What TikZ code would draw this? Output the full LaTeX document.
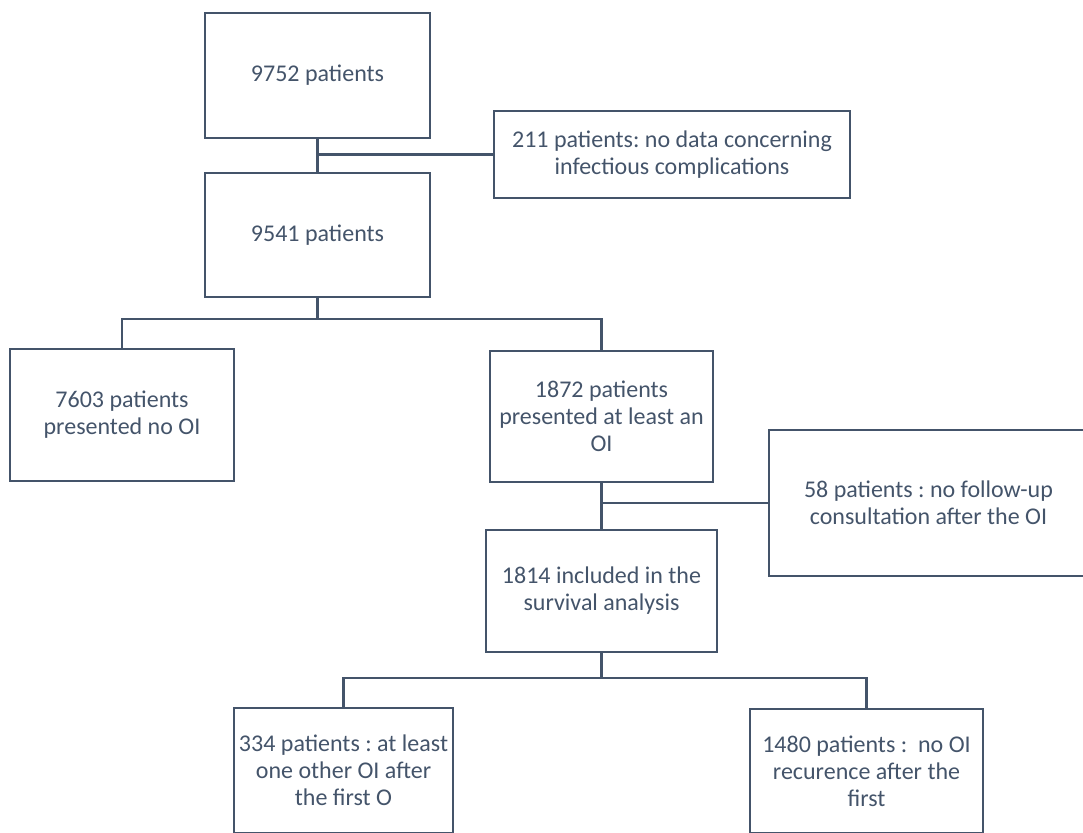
\documentclass[tikz,border=0pt]{standalone}
\usepackage{fontspec}
\setmainfont{Carlito}
\usepackage{xcolor}
\usepackage{tikz}
\usetikzlibrary{positioning,calc}

\definecolor{slate}{HTML}{44546A}
\frenchspacing

\begin{document}
\begin{tikzpicture}[
  x=1pt, y=-1pt,
  font=\fontsize{24}{27}\selectfont,
  box/.style={draw=slate, line width=2.7pt, text=slate, align=center, inner sep=0pt},
  link/.style={draw=slate, line width=2.7pt},
]

\useasboundingbox (0,0) rectangle (1083,832);
\clip (0,0) rectangle (1083,832);

% Boxes (top to bottom)
\node[box, minimum width=225pt, minimum height=125pt] (n9752) at (317.5,75.5) {9752 patients};
\node[box, minimum width=356pt, minimum height=87pt] (n211) at (672,154.5) {211 patients: no data concerning\\infectious complications};
\node[box, minimum width=225pt, minimum height=124pt] (n9541) at (317.5,235) {9541 patients};
\node[box, minimum width=224pt, minimum height=132pt] (n7603) at (122,415) {7603 patients\\presented no OI};
\node[box, minimum width=223pt, minimum height=131pt] (n1872) at (601.5,416.5) {1872 patients\\presented at least an\\OI};
\node[box, minimum width=319pt, minimum height=146pt] (n58) at (928.5,503) {58 patients : no follow-up\\consultation after the OI};
\node[box, minimum width=231pt, minimum height=122pt] (n1814) at (601.5,591) {1814 included in the\\survival analysis};
\node[box, minimum width=219pt, minimum height=125pt] (n334) at (343.5,770.5) {334 patients : at least\\one other OI after\\the first O};
\node[box, minimum width=233pt, minimum height=124pt] (n1480) at (866.5,771) {1480 patients :\ \ no OI\\recurence after the\\first};

% Split points
\coordinate (s1) at (317.5,319);
\coordinate (s2) at (601.5,678);

% Connectors
\draw[link] (n9752) -- (n9541);
\draw[link] (n211.west) -- (n211.west -| n9752.south);
\draw[link] (n9541) -- (s1) -| (n7603);
\draw[link] (s1) -| (n1872);
\draw[link] (n1872) -- (n1814);
\draw[link] (n58.west) -- (n58.west -| n1872.south);
\draw[link] (n1814) -- (s2) -| (n334);
\draw[link] (s2) -| (n1480);

\end{tikzpicture}
\end{document}
